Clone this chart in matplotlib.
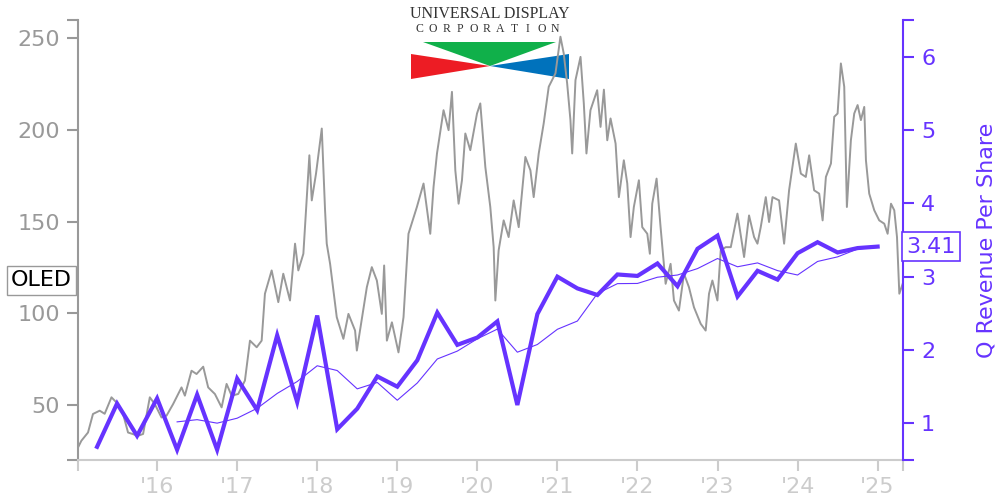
import numpy as np
import pandas as pd
import matplotlib
matplotlib.use('Agg')
import matplotlib.pyplot as plt
from matplotlib.patches import Polygon

# OLED share price (decimal year, USD)
price_t = [2015.012, 2015.054, 2015.137, 2015.199, 2015.283, 2015.345, 2015.430, 2015.492,
           2015.575, 2015.637, 2015.762, 2015.825, 2015.909, 2015.971, 2016.055, 2016.118,
           2016.200, 2016.305, 2016.347, 2016.430, 2016.493, 2016.576, 2016.638, 2016.722,
           2016.806, 2016.868, 2016.931, 2017.013, 2017.097, 2017.160, 2017.244, 2017.306,
           2017.347, 2017.431, 2017.514, 2017.576, 2017.660, 2017.723, 2017.764, 2017.827,
           2017.902, 2017.932, 2017.985, 2018.057, 2018.098, 2018.119, 2018.161, 2018.244,
           2018.327, 2018.390, 2018.473, 2018.495, 2018.620, 2018.682, 2018.745, 2018.807,
           2018.836, 2018.870, 2018.933, 2019.015, 2019.078, 2019.140, 2019.245, 2019.328,
           2019.412, 2019.453, 2019.496, 2019.578, 2019.641, 2019.683, 2019.725, 2019.766,
           2019.808, 2019.850, 2019.912, 2019.996, 2020.037, 2020.100, 2020.162, 2020.204,
           2020.225, 2020.266, 2020.329, 2020.391, 2020.454, 2020.517, 2020.600, 2020.663,
           2020.704, 2020.767, 2020.829, 2020.892, 2020.976, 2021.038, 2021.079, 2021.122,
           2021.163, 2021.185, 2021.226, 2021.289, 2021.330, 2021.363, 2021.413, 2021.497,
           2021.539, 2021.581, 2021.623, 2021.664, 2021.727, 2021.768, 2021.830, 2021.873,
           2021.914, 2021.955, 2022.018, 2022.060, 2022.123, 2022.155, 2022.185, 2022.239,
           2022.289, 2022.352, 2022.414, 2022.456, 2022.518, 2022.581, 2022.643, 2022.706,
           2022.790, 2022.852, 2022.894, 2022.936, 2022.999, 2023.040, 2023.103, 2023.166,
           2023.249, 2023.332, 2023.394, 2023.457, 2023.499, 2023.540, 2023.603, 2023.644,
           2023.687, 2023.769, 2023.832, 2023.894, 2023.978, 2024.041, 2024.103, 2024.145,
           2024.207, 2024.270, 2024.313, 2024.354, 2024.417, 2024.458, 2024.500, 2024.541,
           2024.583, 2024.616, 2024.666, 2024.708, 2024.750, 2024.791, 2024.833, 2024.854,
           2024.895, 2024.958, 2025.020, 2025.083, 2025.125, 2025.167, 2025.208, 2025.242,
           2025.271, 2025.313]
price = [26.8, 30.5, 35.0, 45.1, 46.9, 45.2, 54.2, 51.4,
         45.1, 35.0, 33.2, 34.2, 54.2, 50.5, 43.2, 44.2,
         50.5, 59.6, 55.1, 68.7, 66.9, 70.9, 59.6, 56.0,
         48.7, 61.5, 55.1, 56.0, 63.3, 85.1, 81.5, 85.1,
         110.7, 123.4, 106.1, 121.6, 107.0, 138.0, 123.4, 132.5,
         186.2, 161.6, 176.2, 200.8, 156.2, 138.0, 127.0, 97.9,
         86.1, 99.7, 90.6, 79.7, 114.3, 125.2, 117.9, 99.7,
         126.1, 85.1, 95.1, 78.7, 97.9, 143.4, 158.0, 170.8,
         143.4, 168.9, 187.2, 210.8, 199.9, 220.8, 178.0, 159.8,
         172.6, 198.1, 189.0, 209.0, 214.5, 179.8, 158.0, 136.1,
         107.0, 134.3, 150.7, 141.6, 161.6, 147.0, 185.3, 178.0,
         163.4, 187.2, 203.6, 223.6, 230.9, 250.9, 241.8, 225.4,
         205.4, 187.2, 227.2, 239.9, 214.5, 187.2, 210.8, 221.7,
         201.7, 222.0, 194.4, 206.3, 192.6, 163.4, 183.5, 170.8,
         141.6, 158.0, 172.6, 147.0, 143.4, 132.5, 159.8, 173.5,
         147.0, 116.1, 127.0, 107.0, 101.5, 121.6, 114.3, 103.3,
         94.3, 90.6, 110.7, 117.9, 107.0, 134.3, 136.1, 136.1,
         154.4, 130.7, 153.4, 141.6, 138.0, 147.0, 163.4, 149.8,
         163.4, 161.6, 138.0, 167.1, 192.6, 176.2, 174.4, 186.2,
         167.1, 165.3, 150.7, 174.4, 181.7, 207.2, 209.0, 236.3,
         223.6, 158.0, 194.4, 209.0, 213.6, 205.4, 212.6, 183.5,
         165.3, 156.2, 150.7, 148.9, 143.4, 159.8, 156.2, 141.6,
         110.7, 116.1]

# quarterly revenue per share, 2015Q1 .. 2024Q4
rev_quarters = pd.period_range('2015Q1', '2024Q4', freq='Q')
rev_per_share = [0.68, 1.27, 0.83, 1.34, 0.64, 1.39, 0.64, 1.61,
                 1.18, 2.20, 1.29, 2.47, 0.92, 1.20, 1.64, 1.50,
                 1.86, 2.51, 2.07, 2.17, 2.39, 1.25, 2.49, 3.00,
                 2.84, 2.75, 3.03, 3.01, 3.18, 2.87, 3.38, 3.56,
                 2.73, 3.08, 2.96, 3.32, 3.47, 3.33, 3.39, 3.41]

year_ticks = list(range(2016, 2026))
year_labels = ["'%d" % (y % 100) for y in year_ticks]

PURPLE = '#6633ff'
GREY = '#999999'
LIGHT = '#cccccc'

q_t = rev_quarters.year + rev_quarters.quarter / 4
rev_avg = pd.Series(rev_per_share).rolling(4).mean()

fig = plt.figure(figsize=(10, 5), dpi=100)
ax = fig.add_axes([0.078, 0.08, 0.825, 0.88])
ax2 = ax.twinx()

x0, x1 = 2015.012, 2025.317
ax.set_xlim(x0, x1)
ax.set_ylim(20, 260)
ax2.set_ylim(0.5, 6.5)

ax.plot(price_t, price, color=GREY, lw=1.4, zorder=2)
ax2.plot(q_t, rev_per_share, color=PURPLE, lw=3, solid_joinstyle='miter')
ax2.plot(q_t[4:], rev_avg[4:], color=PURPLE, lw=0.8)

# spines
ax.spines['top'].set_visible(False)
ax2.spines['top'].set_visible(False)
ax.spines['right'].set_visible(False)
ax2.spines['left'].set_visible(False)
ax2.spines['bottom'].set_visible(False)
ax.spines['left'].set_color(GREY)
ax.spines['left'].set_linewidth(1.5)
ax.spines['bottom'].set_color(LIGHT)
ax.spines['bottom'].set_linewidth(1.5)
ax2.spines['right'].set_color(PURPLE)
ax2.spines['right'].set_linewidth(1.5)

ax.set_xticks([x0] + year_ticks + [x1])
ax.set_xticklabels([''] + year_labels + [''])
ax.set_yticks([20, 50, 100, 150, 200, 250, 260])
ax.set_yticklabels(['', '50', '100', '150', '200', '250', ''])
ax2.set_yticks([0.5, 1, 2, 3, 4, 5, 6, 6.5])
ax2.set_yticklabels(['', '1', '2', '3', '4', '5', '6', ''])

ax.tick_params(axis='x', colors=LIGHT, labelsize=16, length=8, width=1.5, pad=4)
ax.tick_params(axis='y', colors=GREY, labelsize=16, length=8, width=1.5, pad=5)
ax2.tick_params(axis='y', colors=PURPLE, labelsize=16, length=8, width=1.5, pad=5)
ax2.set_ylabel('Q Revenue Per Share', color=PURPLE, fontsize=16, labelpad=30)

# last-value tags
ax.annotate('OLED', xy=(0, 118), xycoords=('axes fraction', 'data'),
            xytext=(-6, 0), textcoords='offset pixels', ha='right', va='center',
            fontsize=16, color='black', annotation_clip=False,
            bbox=dict(boxstyle='square,pad=0.2', fc='white', ec=GREY, lw=1))
ax2.annotate('%.2f' % rev_per_share[-1], xy=(1, rev_per_share[-1]),
             xycoords=('axes fraction', 'data'), xytext=(3, 0),
             textcoords='offset pixels', ha='left', va='center',
             fontsize=16, color=PURPLE, annotation_clip=False, zorder=5,
             bbox=dict(boxstyle='square,pad=0.2', fc='white', ec=PURPLE, lw=1.2))


# company logo, placed in figure pixels
def px(x, y):
    return (x / 1000, 1 - y / 500)


logo = [([423, 42], [556, 42], [490, 66], '#10b04a'),
        ([411, 54], [411, 79], [490, 66], '#ed1c24'),
        ([569, 54], [569, 79], [490, 66], '#0072bc')]
for a, b, c, col in logo:
    ax.add_patch(Polygon([px(*a), px(*b), px(*c)], closed=True, fc=col, ec='none',
                         transform=fig.transFigure, clip_on=False, zorder=0.5))
fig.text(*px(490, 14.5), 'UNIVERSAL DISPLAY', family='Liberation Serif', fontsize=11.5,
         color='#333333', ha='center', va='center')
for i, ch in enumerate('CORPORATION'):
    fig.text(*px(419 + i * 13.6, 29.5), ch, family='Liberation Serif', fontsize=8.5,
             color='#333333', ha='center', va='center')

fig.savefig('out.png', dpi=100)
